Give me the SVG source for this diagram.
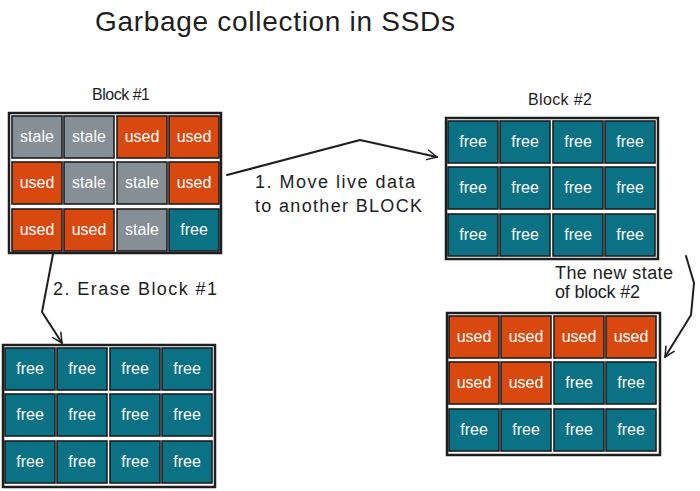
<svg xmlns="http://www.w3.org/2000/svg" width="700" height="491" viewBox="0 0 700 491">
<style>
text{font-family:"Liberation Sans",Arial,sans-serif;}
.lbl{font-size:18px;fill:#1e1e1e;}
.blk{fill:#ffffff;stroke:#1e1e1e;stroke-width:2.5;}
.c{stroke:#1e1e1e;stroke-width:1.6;}
.stale{fill:#868e96;}
.used{fill:#d9480f;}
.free{fill:#0b7285;}
.t{font-size:16px;fill:#ffffff;text-anchor:middle;}
.conn{fill:none;stroke:#1e1e1e;stroke-width:2;stroke-linejoin:round;stroke-linecap:round;}
</style>
<defs>
<marker id="ah" viewBox="0 0 20 20" refX="18" refY="10" markerWidth="12" markerHeight="12" markerUnits="userSpaceOnUse" orient="auto">
<path d="M2,2 L18,10 L2,18" fill="none" stroke="#1e1e1e" stroke-width="2.5" stroke-linecap="round" stroke-linejoin="round"/>
</marker>
</defs>
<rect width="700" height="491" fill="#ffffff"/>
<text x="95" y="31" font-size="28" fill="#1e1e1e" textLength="360">Garbage collection in SSDs</text>

<g id="block1">
<text class="lbl" x="92" y="100" style="font-size:16px" textLength="58">Block #1</text>
<rect class="blk" x="9" y="113" width="212" height="140"/>
<rect class="c stale" x="12" y="116" width="50" height="42"/><text class="t" x="37" y="142">stale</text>
<rect class="c stale" x="64" y="116" width="50" height="42"/><text class="t" x="89" y="142">stale</text>
<rect class="c used" x="117" y="116" width="50" height="42"/><text class="t" x="142" y="142">used</text>
<rect class="c used" x="169" y="116" width="50" height="42"/><text class="t" x="194" y="142">used</text>
<rect class="c used" x="12" y="162" width="50" height="42"/><text class="t" x="37" y="188">used</text>
<rect class="c stale" x="64" y="162" width="50" height="42"/><text class="t" x="89" y="188">stale</text>
<rect class="c stale" x="117" y="162" width="50" height="42"/><text class="t" x="142" y="188">stale</text>
<rect class="c used" x="169" y="162" width="50" height="42"/><text class="t" x="194" y="188">used</text>
<rect class="c used" x="12" y="209" width="50" height="42"/><text class="t" x="37" y="235">used</text>
<rect class="c used" x="64" y="209" width="50" height="42"/><text class="t" x="89" y="235">used</text>
<rect class="c stale" x="117" y="209" width="50" height="42"/><text class="t" x="142" y="235">stale</text>
<rect class="c free" x="169" y="209" width="50" height="42"/><text class="t" x="194" y="235">free</text>
</g>

<g id="block2">
<text class="lbl" x="528" y="105" style="font-size:16px" textLength="64">Block #2</text>
<rect class="blk" x="446" y="118" width="212" height="141"/>
<rect class="c free" x="448" y="121" width="50" height="42"/><text class="t" x="473" y="147">free</text>
<rect class="c free" x="500" y="121" width="50" height="42"/><text class="t" x="525" y="147">free</text>
<rect class="c free" x="553" y="121" width="50" height="42"/><text class="t" x="578" y="147">free</text>
<rect class="c free" x="605" y="121" width="50" height="42"/><text class="t" x="630" y="147">free</text>
<rect class="c free" x="448" y="167" width="50" height="42"/><text class="t" x="473" y="193">free</text>
<rect class="c free" x="500" y="167" width="50" height="42"/><text class="t" x="525" y="193">free</text>
<rect class="c free" x="553" y="167" width="50" height="42"/><text class="t" x="578" y="193">free</text>
<rect class="c free" x="605" y="167" width="50" height="42"/><text class="t" x="630" y="193">free</text>
<rect class="c free" x="448" y="214" width="50" height="42"/><text class="t" x="473" y="240">free</text>
<rect class="c free" x="500" y="214" width="50" height="42"/><text class="t" x="525" y="240">free</text>
<rect class="c free" x="553" y="214" width="50" height="42"/><text class="t" x="578" y="240">free</text>
<rect class="c free" x="605" y="214" width="50" height="42"/><text class="t" x="630" y="240">free</text>
</g>

<g id="block1-erased">
<rect class="blk" x="3" y="345" width="212" height="142"/>
<rect class="c free" x="5" y="348" width="50" height="42"/><text class="t" x="30" y="374">free</text>
<rect class="c free" x="57" y="348" width="50" height="42"/><text class="t" x="82" y="374">free</text>
<rect class="c free" x="110" y="348" width="50" height="42"/><text class="t" x="135" y="374">free</text>
<rect class="c free" x="162" y="348" width="50" height="42"/><text class="t" x="187" y="374">free</text>
<rect class="c free" x="5" y="394" width="50" height="42"/><text class="t" x="30" y="420">free</text>
<rect class="c free" x="57" y="394" width="50" height="42"/><text class="t" x="82" y="420">free</text>
<rect class="c free" x="110" y="394" width="50" height="42"/><text class="t" x="135" y="420">free</text>
<rect class="c free" x="162" y="394" width="50" height="42"/><text class="t" x="187" y="420">free</text>
<rect class="c free" x="5" y="441" width="50" height="42"/><text class="t" x="30" y="467">free</text>
<rect class="c free" x="57" y="441" width="50" height="42"/><text class="t" x="82" y="467">free</text>
<rect class="c free" x="110" y="441" width="50" height="42"/><text class="t" x="135" y="467">free</text>
<rect class="c free" x="162" y="441" width="50" height="42"/><text class="t" x="187" y="467">free</text>
</g>

<g id="block2-new">
<text class="lbl" x="555" y="279" textLength="118">The new state</text>
<text class="lbl" x="555" y="298" textLength="85">of block #2</text>
<rect class="blk" x="447" y="313" width="213" height="142"/>
<rect class="c used" x="449" y="316" width="50" height="42"/><text class="t" x="474" y="342">used</text>
<rect class="c used" x="501" y="316" width="50" height="42"/><text class="t" x="526" y="342">used</text>
<rect class="c used" x="554" y="316" width="50" height="42"/><text class="t" x="579" y="342">used</text>
<rect class="c used" x="606" y="316" width="50" height="42"/><text class="t" x="631" y="342">used</text>
<rect class="c used" x="449" y="362" width="50" height="42"/><text class="t" x="474" y="388">used</text>
<rect class="c used" x="501" y="362" width="50" height="42"/><text class="t" x="526" y="388">used</text>
<rect class="c free" x="554" y="362" width="50" height="42"/><text class="t" x="579" y="388">free</text>
<rect class="c free" x="606" y="362" width="50" height="42"/><text class="t" x="631" y="388">free</text>
<rect class="c free" x="449" y="409" width="50" height="42"/><text class="t" x="474" y="435">free</text>
<rect class="c free" x="501" y="409" width="50" height="42"/><text class="t" x="526" y="435">free</text>
<rect class="c free" x="554" y="409" width="50" height="42"/><text class="t" x="579" y="435">free</text>
<rect class="c free" x="606" y="409" width="50" height="42"/><text class="t" x="631" y="435">free</text>
</g>

<g id="connectors">
<path class="conn" d="M227,175 L360,140 L437,157" marker-end="url(#ah)"/>
<text class="lbl" x="255" y="188" textLength="160">1. Move live data</text>
<text class="lbl" x="255" y="212" textLength="167">to another BLOCK</text>
<path class="conn" d="M53,254 L42,312 L62,343" marker-end="url(#ah)"/>
<text class="lbl" x="53" y="295" textLength="164">2. Erase Block #1</text>
<path class="conn" d="M686,256 L694,283 L691,315 L665,357" marker-end="url(#ah)"/>
</g>
</svg>
